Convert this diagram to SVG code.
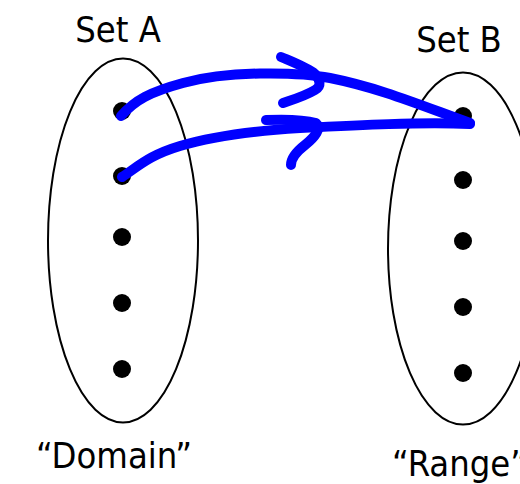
<svg xmlns="http://www.w3.org/2000/svg" width="520" height="484" viewBox="0 0 520 484">
<style>
.set{fill:none;stroke:#000;stroke-width:2}
.dot{fill:#000}
.lbl{font-family:"DejaVu Sans Condensed","DejaVu Sans",sans-serif;font-size:36px;fill:#000;text-anchor:middle}
.arr{fill:none;stroke:#0000ff;stroke-width:10;stroke-linecap:round;stroke-linejoin:round}
</style>
<rect width="520" height="484" fill="#fff"/>
<g id="setA">
<ellipse class="set" cx="123" cy="240.5" rx="75" ry="182"/>
<text class="lbl" x="118" y="42">Set A</text>
<text class="lbl" x="114" y="468">“Domain”</text>
<circle class="dot" cx="122" cy="111" r="9"/>
<circle class="dot" cx="122" cy="176" r="9"/>
<circle class="dot" cx="122" cy="237" r="9"/>
<circle class="dot" cx="122" cy="303" r="9"/>
<circle class="dot" cx="122" cy="369" r="9"/>
</g>
<g id="setB">
<ellipse class="set" cx="463" cy="248.5" rx="75" ry="176"/>
<text class="lbl" x="459" y="52">Set B</text>
<text class="lbl" x="392" y="476" style="text-anchor:start">“Range”</text>
<circle class="dot" cx="463" cy="116" r="9"/>
<circle class="dot" cx="463" cy="180" r="9"/>
<circle class="dot" cx="463" cy="241" r="9"/>
<circle class="dot" cx="463" cy="307" r="9"/>
<circle class="dot" cx="463" cy="373" r="9"/>
</g>
<g id="connectors">
<path class="arr" d="M121,116 C135,100 150,92 183,83 C205,77 230,74 260,73.5 C290,73 310,74 330,78 C380,88 420,105 470,123"/>
<path class="arr" d="M281,57 C295,63 308,68 315,74 C320,80 322,86 315,90 C305,96 295,99 283,103"/>
<path class="arr" d="M122,177 C140,165 150,155 180,146 C210,137 250,131 300,128 C360,125 420,122 470,124"/>
<path class="arr" d="M266,120 C290,119 305,120 316,123 C322,128 315,137 305,145 C296,152 291,158 291,165"/>
</g>
</svg>
